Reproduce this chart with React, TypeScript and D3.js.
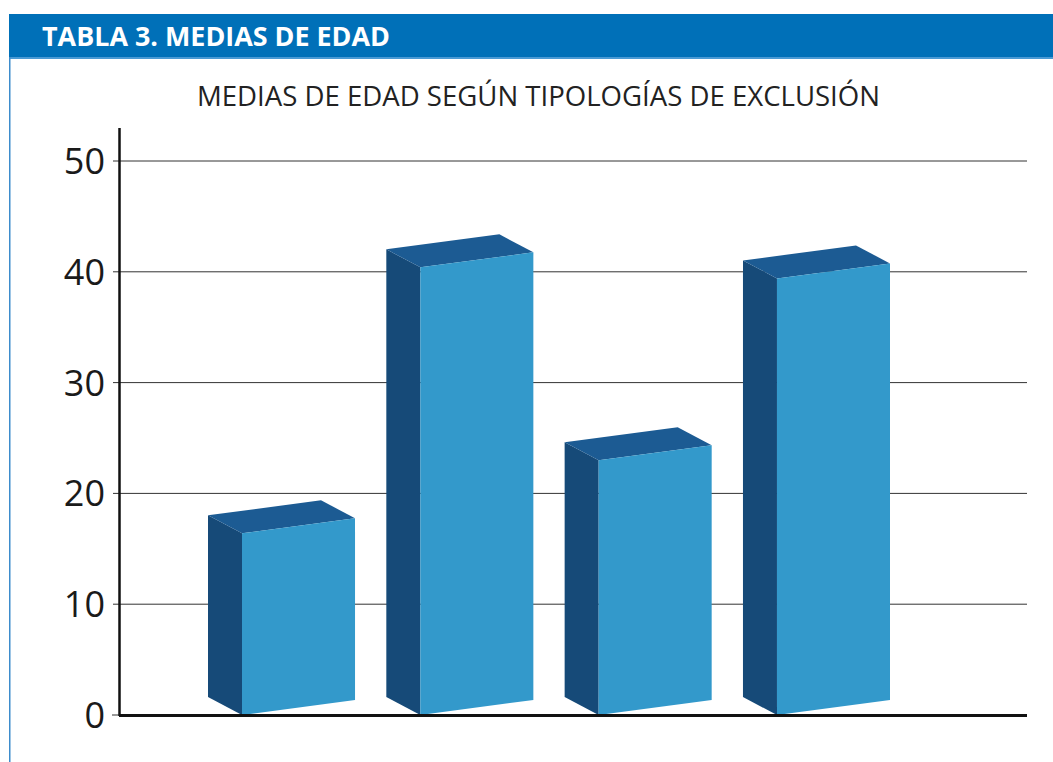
import React from "react";
import * as d3 from "d3";

const categories = ["T1", "T2", "T3", "T4"];
const values = [16.4, 40.4, 23.0, 39.4];
const yTicks = [0, 10, 20, 30, 40, 50];
const headerText = "TABLA 3. MEDIAS DE EDAD";
const titleText = "MEDIAS DE EDAD SEGÚN TIPOLOGÍAS DE EXCLUSIÓN";

const W = 1053;
const H = 762;
const FONT = "'Open Sans', 'Noto Sans', sans-serif";

export default function App() {
  const y = d3.scaleLinear().domain([0, 50]).range([715, 161]);
  const x = d3.scaleBand<string>().domain(categories).range([208, 890]).paddingInner(0.1755).paddingOuter(0);
  const depthX = 34;
  const depthY = 18;
  const skew = 15;
  const frontW = x.bandwidth() - depthX;

  const line = d3.line();

  return (
    <svg width={W} height={H} style={{ position: "absolute", left: 0, top: 0 }}>
      <rect x={0} y={0} width={W} height={H} fill="#fff" />
      {/* header */}
      <rect x={9} y={14} width={W - 9} height={43} fill="#0070b8" />
      <rect x={9} y={57} width={W - 9} height={2} fill="#4a9ad4" />
      <rect x={9} y={57} width={1.5} height={H - 57} fill="#3d8ccc" />
      <text x={42} y={46} fill="#fff" fontFamily={FONT} fontWeight={700} fontSize={26} textLength={348} lengthAdjust="spacingAndGlyphs">
        {headerText}
      </text>
      <text x={197} y={106} fill="#222" fontFamily={FONT} fontSize={26.5} textLength={683} lengthAdjust="spacingAndGlyphs">
        {titleText}
      </text>
      {/* grid */}
      {yTicks.map((t) => (
        <g key={t}>
          {t !== 0 && (
            <line x1={113} x2={1027} y1={y(t)} y2={y(t)} stroke="#333" strokeWidth={1} />
          )}
          {t === 0 && <line x1={112} x2={120} y1={y(t)} y2={y(t)} stroke="#333" strokeWidth={1} />}
          <text
            x={105}
            y={y(t) + 13}
            textAnchor="end"
            fontFamily={FONT}
            fontSize={36}
            fill="#1a1a1a"
          >
            {t}
          </text>
        </g>
      ))}
      {/* bars */}
      {categories.map((c, i) => {
        const xs = x(c)!;
        const fx = xs + depthX;
        const base = y(0);
        const top = y(values[i]);
        const front: [number, number][] = [
          [fx, base],
          [fx + frontW, base - skew],
          [fx + frontW, top - skew],
          [fx, top],
        ];
        const side: [number, number][] = [
          [xs, base - depthY],
          [fx, base],
          [fx, top],
          [xs, top - depthY],
        ];
        const topFace: [number, number][] = [
          [xs, top - depthY],
          [fx, top],
          [fx + frontW, top - skew],
          [xs + frontW, top - skew - depthY],
        ];
        return (
          <g key={c}>
            <path d={line(side)! + "Z"} fill="#164a78" />
            <path d={line(topFace)! + "Z"} fill="#1c5b93" />
            <path d={line(front)! + "Z"} fill="#3399cb" />
          </g>
        );
      })}
      {/* axes */}
      <line x1={119.5} x2={119.5} y1={128} y2={716} stroke="#111" strokeWidth={2.5} />
      <line x1={119} x2={1027} y1={715.5} y2={715.5} stroke="#111" strokeWidth={3} />
    </svg>
  );
}
